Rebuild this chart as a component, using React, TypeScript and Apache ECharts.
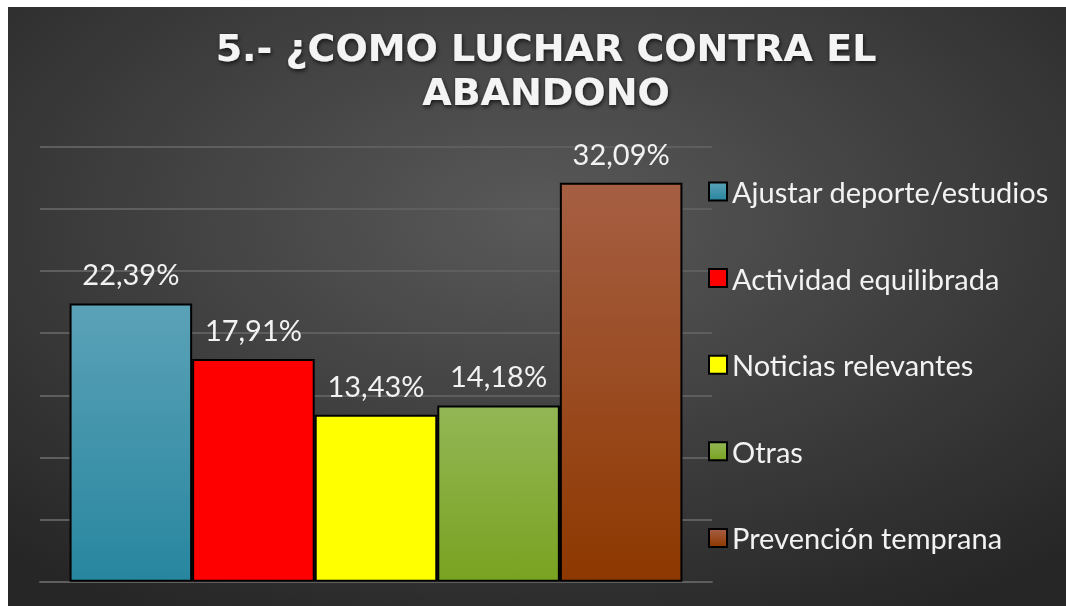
import React, { useEffect, useRef } from "react";
import * as echarts from "echarts";

const titleText = "5.- ¿COMO LUCHAR CONTRA EL\nABANDONO";
const seriesNames = [
  "Ajustar deporte/estudios",
  "Actividad equilibrada",
  "Noticias relevantes",
  "Otras",
  "Prevención temprana",
];
const seriesValues = [22.39, 17.91, 13.43, 14.18, 32.09];
const topColors = ["#5ba2b7", "#ff0000", "#ffff00", "#93b655", "#a65f43"];
const bottomColors = ["#27869f", "#ff0000", "#ffff00", "#79a321", "#8e3800"];
const yMin = 0;
const yMax = 35;
const yInterval = 5;

const fmt = (v: number) => v.toFixed(2).replace(".", ",") + "%";

export default function App() {
  const ref = useRef<HTMLDivElement>(null);
  useEffect(() => {
    if (!ref.current) return;
    const chart = echarts.init(ref.current, null, { renderer: "svg" });
    const series = seriesNames.map((name, i) => ({
      name,
      type: "bar",
      data: [seriesValues[i]],
      barGap: "0%",
      barCategoryGap: "8.8%",
      itemStyle: {
        color: new echarts.graphic.LinearGradient(0, 0, 0, 1, [
          { offset: 0, color: topColors[i] },
          { offset: 1, color: bottomColors[i] },
        ]),
        borderColor: "#000",
        borderWidth: 2,
      },
      label: {
        show: true,
        position: "top",
        distance: 15,
        color: "#f2f2f2",
        fontFamily: "Lato",
        fontSize: 29,
        formatter: (p: any) => fmt(p.value),
      },
    }));
    chart.setOption({
      animation: false,
      backgroundColor: {
        type: "radial",
        x: 0.5,
        y: 0.35,
        r: 0.75,
        colorStops: [
          { offset: 0, color: "#595959" },
          { offset: 1, color: "#262626" },
        ],
      },
      title: {
        text: titleText,
        left: 533,
        textAlign: "center",
        top: 14,
        textStyle: {
          color: "#f4f4f4",
          fontFamily: "DejaVu Sans",
          fontWeight: "bold",
          fontSize: 38,
          lineHeight: 44,
          textShadowColor: "rgba(0,0,0,0.7)",
          textShadowBlur: 4,
          textShadowOffsetX: 1,
          textShadowOffsetY: 2,
        },
      },
      legend: {
        orient: "vertical",
        left: 695,
        top: 164.5,
        itemWidth: 18,
        itemHeight: 18,
        itemGap: 56.6,
        icon: "rect",
        textStyle: {
          color: "#f2f2f2",
          fontFamily: "Lato",
          fontSize: 29,
          lineHeight: 30,
        },
        data: seriesNames,
      },
      grid: {
        left: 32,
        top: 139.7,
        width: 672,
        height: 435,
        containLabel: false,
      },
      xAxis: {
        type: "category",
        data: [""],
        axisLine: { show: true, lineStyle: { color: "#5e5e5e", width: 2 } },
        axisTick: { show: false },
        axisLabel: { show: false },
      },
      yAxis: {
        type: "value",
        min: yMin,
        max: yMax,
        interval: yInterval,
        axisLabel: { show: false },
        axisLine: { show: false },
        axisTick: { show: false },
        splitLine: { lineStyle: { color: "#5e5e5e", width: 2 } },
      },
      series,
    });
    return () => chart.dispose();
  }, []);
  return (
    <div
      ref={ref}
      style={{ position: "fixed", left: 8, top: 7, width: 1058, height: 599 }}
    />
  );
}
